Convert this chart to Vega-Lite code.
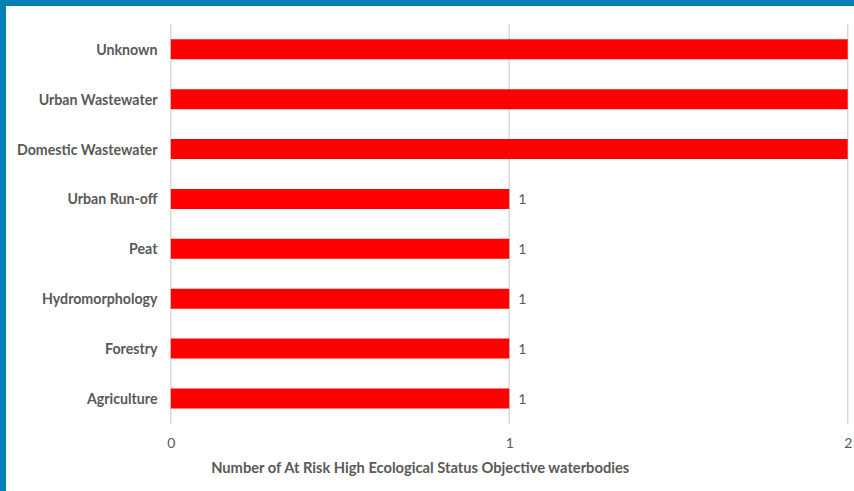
{
  "$schema": "https://vega.github.io/schema/vega-lite/v6.json",
  "width": 848,
  "height": 485,
  "autosize": "none",
  "padding": {"left": 6, "top": 6, "right": 0, "bottom": 0},
  "background": "#0580b4",
  "config": {"view": {"fill": "white", "stroke": null}},
  "datasets": {
    "bars": [
      {"category": "Unknown", "value": 2},
      {"category": "Urban Wastewater", "value": 2},
      {"category": "Domestic Wastewater", "value": 2},
      {"category": "Urban Run-off", "value": 1},
      {"category": "Peat", "value": 1},
      {"category": "Hydromorphology\u00a0", "value": 1},
      {"category": "Forestry", "value": 1},
      {"category": "Agriculture", "value": 1}
    ],
    "grid": [{"tick": 0}, {"tick": 1}, {"tick": 2}]
  },
  "layer": [
    {
      "data": {"name": "grid"},
      "mark": {"type": "rule", "color": "#d9d9d9", "strokeWidth": 1.5},
      "encoding": {
        "x": {"field": "tick", "type": "quantitative", "scale": {"domain": [-0.48693, 2.01861], "nice": false, "zero": false}},
        "y": {"datum": 0, "type": "quantitative", "scale": {"domain": [-0.16925, 1.04507], "nice": false, "zero": false}, "axis": null},
        "y2": {"datum": 1}
      }
    },
    {
      "data": {"name": "bars"},
      "layer": [
        {
          "mark": {"type": "bar", "color": "#ff0000"},
          "encoding": {
            "y": {
              "field": "category", "type": "nominal",
              "sort": ["Unknown", "Urban Wastewater", "Domestic Wastewater", "Urban Run-off", "Peat", "Hydromorphology\u00a0", "Forestry", "Agriculture"],
              "scale": {"range": [18.4, 417.4], "paddingInner": 0.6, "paddingOuter": 0.3},
              "axis": {
                "title": null, "domain": false, "ticks": false, "offset": -165, "labelPadding": 14, "labelOffset": 1.5,
                "labelFont": "Lato", "labelFontSize": 14.2, "labelFontWeight": "bold", "labelColor": "#595959"
              }
            },
            "x": {
              "field": "value", "type": "quantitative",
              "scale": {"domain": [-0.48693, 2.01861], "nice": false, "zero": false},
              "axis": {
                "values": [0, 1, 2], "format": "d", "grid": false, "domain": false, "ticks": false, "offset": -67.6,
                "labelPadding": 13, "labelFlush": false, "labelFont": "Lato", "labelFontSize": 14, "labelColor": "#595959",
                "title": "Number of At Risk High Ecological Status Objective waterbodies",
                "titleFont": "Lato", "titleFontSize": 14.7, "titleFontWeight": "bold", "titleColor": "#595959",
                "titlePadding": 10, "titleX": 413.7
              }
            },
            "x2": {"datum": 0}
          }
        },
        {
          "transform": [{"filter": "datum.value < 2"}],
          "mark": {"type": "text", "align": "left", "baseline": "middle", "dx": 9, "dy": 1.5, "font": "Lato", "fontSize": 14, "color": "#595959"},
          "encoding": {
            "y": {"field": "category", "type": "nominal",
              "sort": ["Unknown", "Urban Wastewater", "Domestic Wastewater", "Urban Run-off", "Peat", "Hydromorphology\u00a0", "Forestry", "Agriculture"]},
            "x": {"field": "value", "type": "quantitative"},
            "text": {"field": "value", "type": "quantitative"}
          }
        }
      ]
    }
  ],
  "resolve": {"scale": {"y": "independent"}, "axis": {"y": "independent"}}
}
